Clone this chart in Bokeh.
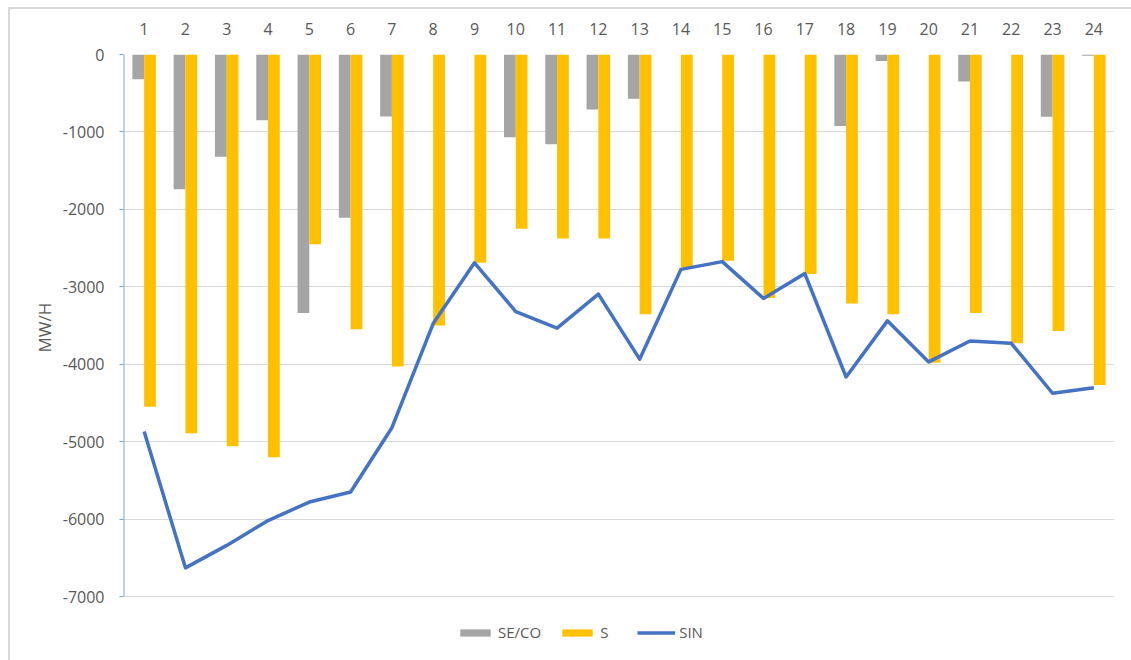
from bokeh.plotting import figure
from bokeh.models import (ColumnDataSource, FixedTicker, Legend, LegendItem, Range1d,
                          FactorRange, PrintfTickFormatter, Title)
from bokeh.transform import dodge
from bokeh.embed import file_html
from bokeh.resources import INLINE

hours = [str(i) for i in range(1, 25)]
seco = [-320, -1740, -1320, -850, -3340, -2110, -800, 0, 0, -1070, -1160, -710,
        -570, 0, 0, 0, 0, -925, -85, 0, -350, 0, -805, -15]
s = [-4550, -4890, -5060, -5200, -2450, -3550, -4030, -3500, -2690, -2250, -2375, -2375,
     -3355, -2750, -2665, -3145, -2835, -3215, -3355, -3980, -3340, -3730, -3570, -4270]
sin = [-4870, -6630, -6340, -6020, -5780, -5650, -4820, -3475, -2690, -3320, -3535, -3095,
       -3935, -2775, -2675, -3150, -2830, -4165, -3440, -3970, -3700, -3730, -4375, -4305]
y_ticks = [0, -1000, -2000, -3000, -4000, -5000, -6000, -7000]
y_min = -7000

FONT = "Open Sans"
TXT = "#595959"
AXIS_BLUE = "#7aa6d8"

W, H = 1131, 660
TOP, LEFT, RIGHT = 54, 123, 17
AXIS_BOTTOM = 596          # pixel row of the -7000 gridline
FRAME_BOTTOM = 650         # frame extends below so the legend can sit inside it
scale = (AXIS_BOTTOM - TOP) / (0 - y_min)
y_lo = -(FRAME_BOTTOM - TOP) / scale

src = ColumnDataSource(dict(hour=hours, seco=seco, s=s, sin=sin))

p = figure(x_range=FactorRange(*hours), y_range=Range1d(y_lo, 0),
           width=W, height=H, output_backend="svg", toolbar_location=None,
           x_axis_location="above",
           min_border_left=LEFT, min_border_right=RIGHT, min_border_top=TOP,
           min_border_bottom=H - FRAME_BOTTOM)
p.border_fill_alpha = 0
p.styles = {
    "background": "linear-gradient(#d9d9d9,#d9d9d9) 8px 7px / 1123px 2px no-repeat, "
                  "linear-gradient(#d9d9d9,#d9d9d9) 8px 7px / 2px 653px no-repeat, white"
}
p.outline_line_color = None

g = p.vbar(x=dodge("hour", -0.1425, range=p.x_range), top="seco", bottom=0, width=0.285,
           source=src, fill_color="#a5a5a5", line_color=None)
y = p.vbar(x=dodge("hour", 0.1425, range=p.x_range), top="s", bottom=0, width=0.285,
           source=src, fill_color="#ffc000", line_color=None)
l = p.line(x="hour", y="sin", source=src, line_color="#4472c4", line_width=3.5,
           line_join="round")

# value-axis line from 0 down to -7000 (left edge of the category range)
p.segment(x0=[0], y0=[0], x1=[0], y1=[y_min], line_color=AXIS_BLUE, line_width=2)

# x axis (above)
xa = p.xaxis[0]
xa.axis_line_color = None
xa.major_tick_line_color = None
xa.minor_tick_line_color = None
xa.major_label_text_font = FONT
xa.major_label_text_font_size = "16px"
xa.major_label_text_color = TXT
xa.major_label_standoff = 14

# y axis
ya = p.yaxis[0]
ya.ticker = FixedTicker(ticks=y_ticks)
ya.formatter = PrintfTickFormatter(format="%d")
ya.axis_line_color = None
ya.major_tick_line_color = AXIS_BLUE
ya.major_tick_in = 0
ya.major_tick_out = 4
ya.minor_tick_line_color = None
ya.major_label_text_font = FONT
ya.major_label_text_font_size = "16px"
ya.major_label_text_color = TXT
ya.major_label_standoff = 15

# y-axis title, centred on the 0..-7000 span (not on the extended frame)
ytitle = Title(text="MW/H", align="left", offset=FRAME_BOTTOM - 352,
               text_font=FONT, text_font_size="17px", text_font_style="normal",
               text_color=TXT, standoff=8)
p.add_layout(ytitle, "left")

p.xgrid.grid_line_color = None
p.ygrid.ticker = FixedTicker(ticks=y_ticks)
p.ygrid.grid_line_color = "#d9d9d9"
p.ygrid.grid_line_width = 1

legend = Legend(items=[LegendItem(label="SE/CO", renderers=[g]),
                       LegendItem(label="S", renderers=[y]),
                       LegendItem(label="SIN", renderers=[l])],
                location=(333, 8), orientation="horizontal")
legend.glyph_width = 38
legend.glyph_height = 9
legend.label_standoff = 4
legend.spacing = 17
legend.padding = 0
legend.margin = 0
legend.border_line_color = None
legend.background_fill_alpha = 0
legend.label_text_font = FONT
legend.label_text_font_size = "15px"
legend.label_text_color = TXT
legend.label_height = 17
p.add_layout(legend, "center")

open("out.html", "w").write(file_html(p, INLINE))
